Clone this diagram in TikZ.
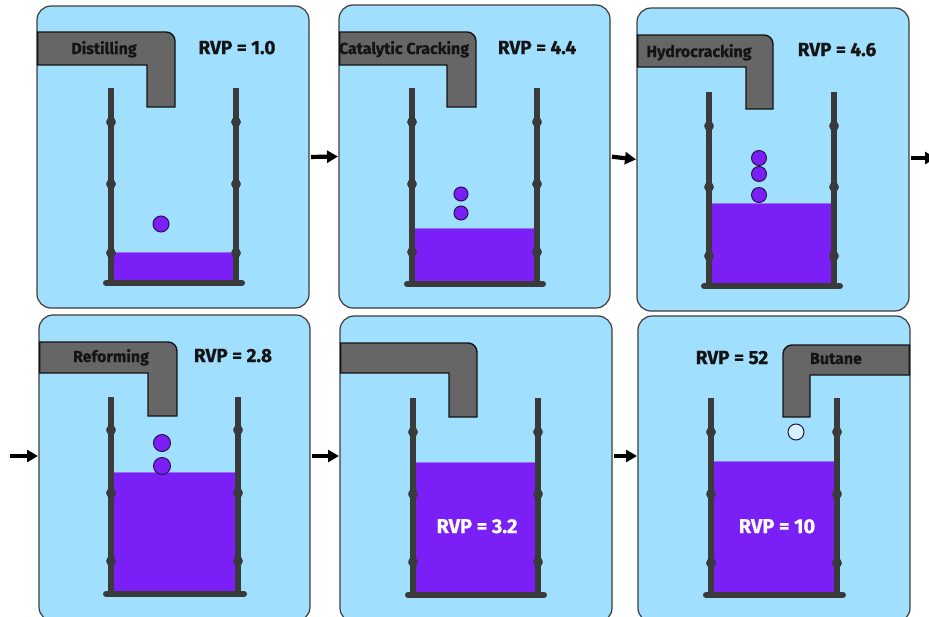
\documentclass[tikz,border=0pt]{standalone}
\usepackage{fontspec}
\setmainfont{Fira Sans}[BoldFeatures={FakeBold=0.6}]
\usetikzlibrary{arrows.meta}

\definecolor{panelbg}{RGB}{161,223,254}
\definecolor{panelrim}{RGB}{60,60,60}
\definecolor{liquid}{RGB}{122,31,245}
\definecolor{liquidtop}{RGB}{150,110,255}
\definecolor{wallgray}{RGB}{58,58,58}
\definecolor{pipegray}{RGB}{102,102,102}
\definecolor{pipeedge}{RGB}{20,20,20}
\definecolor{balledge}{RGB}{40,20,70}
\definecolor{vapour}{RGB}{214,242,255}
\definecolor{ink}{RGB}{20,20,20}

\tikzset{
  panel/.style={draw=panelrim, line width=1.2pt, fill=panelbg, rounded corners=14pt,
                inner sep=0pt, outer sep=0pt},
  wall/.style={draw=wallgray, line width=6pt},
  bead/.style={draw=wallgray, line width=1.7pt},
  drumbase/.style={draw=wallgray, line width=6pt, line cap=round},
  pipe/.style={draw=pipeedge, line width=1.4pt, fill=pipegray},
  drop/.style={draw=balledge, line width=1pt, fill=liquid},
  gasdrop/.style={draw=balledge, line width=1pt, fill=vapour},
  pipelabel/.style={font=\fontsize{16}{18}\selectfont\bfseries, text=ink, anchor=base, inner sep=0pt},
  rvp/.style={font=\fontsize{19}{21}\selectfont\bfseries, text=ink, anchor=base, inner sep=0pt},
  rvpin/.style={font=\fontsize{20}{22}\selectfont\bfseries, text=white, anchor=base, inner sep=0pt},
  flow/.style={draw=black, line width=4.2pt, -{Triangle[length=11pt,width=12pt]}, shorten <=2pt, shorten >=1pt}
}

% drum: left x, right x, top y, base y, liquid level, three bead heights
\newcommand\mkdrum[8]{%
  \fill[liquid] (#1+2.2,#5) rectangle (#2-2.2,#4);
  \draw[liquidtop, line width=1pt] (#1+2.2,#5) -- (#2-2.2,#5);
  \foreach \wx in {#1,#2}{%
    \draw[wall] (\wx,#3) -- (\wx,#4);
    \foreach \by in {#6,#7,#8}{\draw[bead] (\wx,\by) circle[radius=4];}
  }
  \draw[drumbase] (#1-5,#4) -- (#2+6,#4);
}

% feed pipe entering from the left: panel x, top, lower edge, inner x, outer x, mouth y
\newcommand\pipeleft[6]{%
  \draw[pipe] (#1,#2) -- (#5-9,#2) arc[start angle=-90,end angle=0,radius=9]
    -- (#5,#6) -- (#4,#6) -- (#4,#3) -- (#1,#3) -- cycle;
}
% feed pipe entering from the right: panel x, top, lower edge, inner x, outer x, mouth y
\newcommand\piperight[6]{%
  \draw[pipe] (#1,#2) -- (#5+9,#2) arc[start angle=-90,end angle=-180,radius=9]
    -- (#5,#6) -- (#4,#6) -- (#4,#3) -- (#1,#3) -- cycle;
}

\begin{document}
\begin{tikzpicture}[x=1pt,y=-1pt]
\useasboundingbox (0,0) rectangle (929,616);
\clip (0,0) rectangle (929,616);
\fill[white] (0,0) rectangle (929,616);

% panels
\node[panel, minimum width=272pt, minimum height=302pt] (p1) at (173,157) {};
\node[panel, minimum width=271pt, minimum height=303pt] (p2) at (474.5,156.5) {};
\node[panel, minimum width=272pt, minimum height=303pt] (p3) at (773,159.5) {};
\node[panel, minimum width=271pt, minimum height=306pt] (p4) at (174.5,468) {};
\node[panel, minimum width=272pt, minimum height=306pt] (p5) at (476,469) {};
\node[panel, minimum width=272pt, minimum height=306pt] (p6) at (774,469) {};

% drums with their liquid
\mkdrum{111}{236}{88}{283}{252}{122}{184}{253}
\mkdrum{412}{537}{88}{284}{228}{122}{184}{252}
\mkdrum{709}{834}{92}{286}{203}{126}{187}{256}
\mkdrum{111}{238}{397}{594}{472}{430}{493}{561}
\mkdrum{413}{538}{398}{595}{462}{432}{494}{562}
\mkdrum{711}{837}{398}{595}{461}{432}{494}{563}

% drops falling into the drums
\node[drop, circle, minimum size=16pt, inner sep=0pt] (d1) at (161,224) {};
\node[drop, circle, minimum size=14pt, inner sep=0pt] (d2a) at (461,194) {};
\node[drop, circle, minimum size=14pt, inner sep=0pt] (d2b) at (461,213) {};
\node[drop, circle, minimum size=15pt, inner sep=0pt] (d3a) at (759,158) {};
\node[drop, circle, minimum size=15pt, inner sep=0pt] (d3b) at (759,174) {};
\node[drop, circle, minimum size=15pt, inner sep=0pt] (d3c) at (759,195) {};
\node[drop, circle, minimum size=17pt, inner sep=0pt] (d4a) at (162,443) {};
\node[drop, circle, minimum size=17pt, inner sep=0pt] (d4b) at (162,466) {};
\node[gasdrop, circle, minimum size=16pt, inner sep=0pt] (d6) at (796,432) {};

% feed pipes
\pipeleft{37.6}{32}{65}{147}{175}{107}
\pipeleft{339.6}{32}{65}{447}{476}{107}
\pipeleft{637.6}{35}{67}{746}{773}{109}
\pipeleft{39.6}{342}{373}{148}{177}{416}
\pipeleft{340.6}{343}{373}{449}{477}{417}
\piperight{909.4}{345}{375}{810}{783}{417}

% labels
\node[pipelabel] (n1) at (104,54) {Distilling};
\node[rvp] (r1) at (237,54) {RVP = 1.0};
\node[pipelabel] (n2) at (404,54) {Catalytic Cracking};
\node[rvp] (r2) at (537,54) {RVP = 4.4};
\node[pipelabel] (n3) at (699,57) {Hydrocracking};
\node[rvp] (r3) at (837,56) {RVP = 4.6};
\node[pipelabel] (n4) at (111,362) {Reforming};
\node[rvp] (r4) at (233,362) {RVP = 2.8};
\node[rvpin] (r5) at (477,533) {RVP = 3.2};
\node[pipelabel] (n6) at (836,364) {Butane};
\node[rvp] (r6) at (732,364) {RVP = 52};
\node[rvpin] (r6b) at (777,533) {RVP = 10};

% flow arrows
\coordinate (row2) at (10,456);
\coordinate (exit) at (936,158);
\draw[flow] (p1.east) -- (p2.west);
\draw[flow] (p2.east) -- (p3.west);
\draw[flow, shorten >=0pt] (p3.east |- exit) -- (exit);
\draw[flow, shorten <=0pt] (row2) -- (row2 -| p4.west);
\draw[flow] (p4.east |- row2) -- (p5.west |- row2);
\draw[flow] (p5.east |- row2) -- (p6.west |- row2);
\end{tikzpicture}
\end{document}
